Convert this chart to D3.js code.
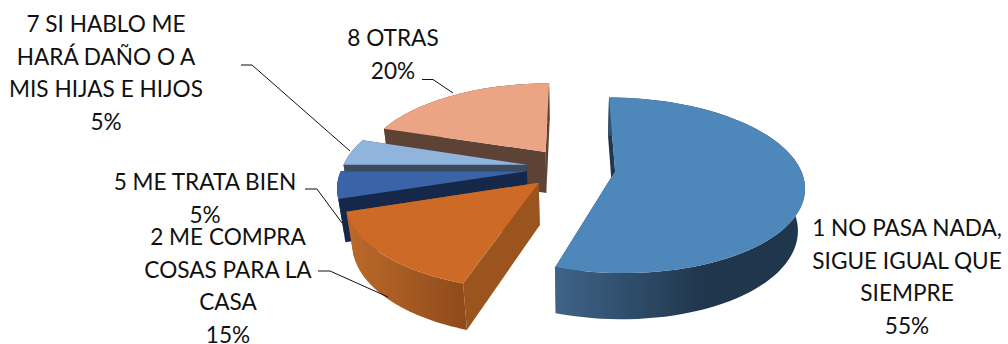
<!DOCTYPE html>
<html><head><meta charset="utf-8">
<script src="https://cdn.jsdelivr.net/npm/d3@7"></script>
<style>html,body{margin:0;padding:0;background:#fff}svg{display:block}
text{font-family:Lato,"Open Sans",sans-serif;fill:#111}</style></head>
<body><svg id="c" width="1008" height="344"></svg>
<script>
const categories=["1 NO PASA NADA, SIGUE IGUAL QUE SIEMPRE","2 ME COMPRA COSAS PARA LA CASA","5 ME TRATA BIEN","7 SI HABLO ME HARÁ DAÑO O A MIS HIJAS E HIJOS","8 OTRAS"];
const values=[55,15,5,5,20];
const percentLabels=["55%","15%","5%","5%","20%"];
const topColors=["#4e87ba","#cd6a26","#3a63a8","#90b4dc","#eca584"];
const wallColors=["#1f364c","#9c541f","#16284a","#3b4a5c","#5f4236"];
const rimStart=["#3f6488","#bd6a2a","#16284a","#3b4a5c","#5f4236"];
const rimEnd=["#1f364c","#8e4a1b","#16284a","#3b4a5c","#5f4236"];
const labelLines=[["1 NO PASA NADA,","SIGUE IGUAL QUE","SIEMPRE","55%"],["2 ME COMPRA","COSAS PARA LA","CASA","15%"],["5 ME TRATA BIEN","5%"],["7 SI HABLO ME","HARÁ DAÑO O A","MIS HIJAS E HIJOS","5%"],["8 OTRAS","20%"]];

const W=1008,H=344;
const svg=d3.select("#c");
const cx=571,cy=168;
const rotation=0*Math.PI/180, explode=.24, k=.16, m=.03;
const sx=d3.scaleLinear().domain([-1,1]).range([cx-185,cx+185]);
const sy=d3.scaleLinear().domain([-1,1]).range([cy-84.5,cy+84.5]);
const depth=43;
function project(X,Y,Z){
  const s=1/(1-k*Y+m*Z);
  return [cx+(sx(X)-cx)*s, cy+((sy(Y)-cy)+depth*Z)*s];
}
const pie=d3.pie().sort(null).startAngle(rotation).endAngle(rotation+2*Math.PI)(values);
const line=d3.line();
const defs=svg.append("defs");
// paint back-to-front
const order=[4,3,2,1,0];
order.forEach(i=>{
  const p=pie[i], mid=(p.startAngle+p.endAngle)/2;
  const ox=explode*Math.sin(mid), oy=-explode*Math.cos(mid);
  const thetas=d3.range(0,81).map(t=>p.startAngle+(p.endAngle-p.startAngle)*t/80);
  const rim=z=>thetas.map(t=>project(ox+Math.sin(t),oy-Math.cos(t),z));
  const apex=z=>project(ox,oy,z);
  const top=rim(0), bot=rim(1);
  const g=svg.append("g");
  // radial walls
  [[top[0],bot[0]],[top[80],bot[80]]].forEach(([a,b])=>{
    g.append("path").attr("d",line([apex(0),a,b,apex(1)])+"Z").attr("fill",wallColors[i]);
  });
  // outer wall
  const xs=d3.extent(top.concat(bot),d=>d[0]);
  const gid="rim"+i;
  const lg=defs.append("linearGradient").attr("id",gid).attr("gradientUnits","userSpaceOnUse")
    .attr("x1",xs[0]).attr("x2",i==0?xs[0]+(xs[1]-xs[0])*.6:xs[1]).attr("y1",0).attr("y2",0);
  lg.append("stop").attr("offset",0).attr("stop-color",rimStart[i]);
  lg.append("stop").attr("offset",1).attr("stop-color",rimEnd[i]);
  g.append("path").attr("d",line(top.concat(bot.slice().reverse()))+"Z").attr("fill",`url(#${gid})`);
  // top
  g.append("path").attr("d",line([apex(0)].concat(top))+"Z").attr("fill",topColors[i]);
});

// labels
const labelPos=[[907,236],[228,245],[205,190],[106,32],[393,46]];
const lineGap=32.7;
labelLines.forEach((ls,i)=>{
  const t=svg.append("text").attr("text-anchor","middle").attr("font-size",22.6);
  ls.forEach((s,j)=>t.append("tspan").attr("x",labelPos[i][0]).attr("y",labelPos[i][1]+j*lineGap).text(s));
});
// leader lines
const leaders=[[[318,271],[330,271],[388,297]],[[305,189],[317,189],[342,223]],[[241,65],[252,65],[350,151]],[[422,79.5],[433,79.5],[453,93]]];
leaders.forEach(l=>svg.append("path").attr("d",line(l)).attr("fill","none").attr("stroke","#111").attr("stroke-width",1));
</script></body></html>
